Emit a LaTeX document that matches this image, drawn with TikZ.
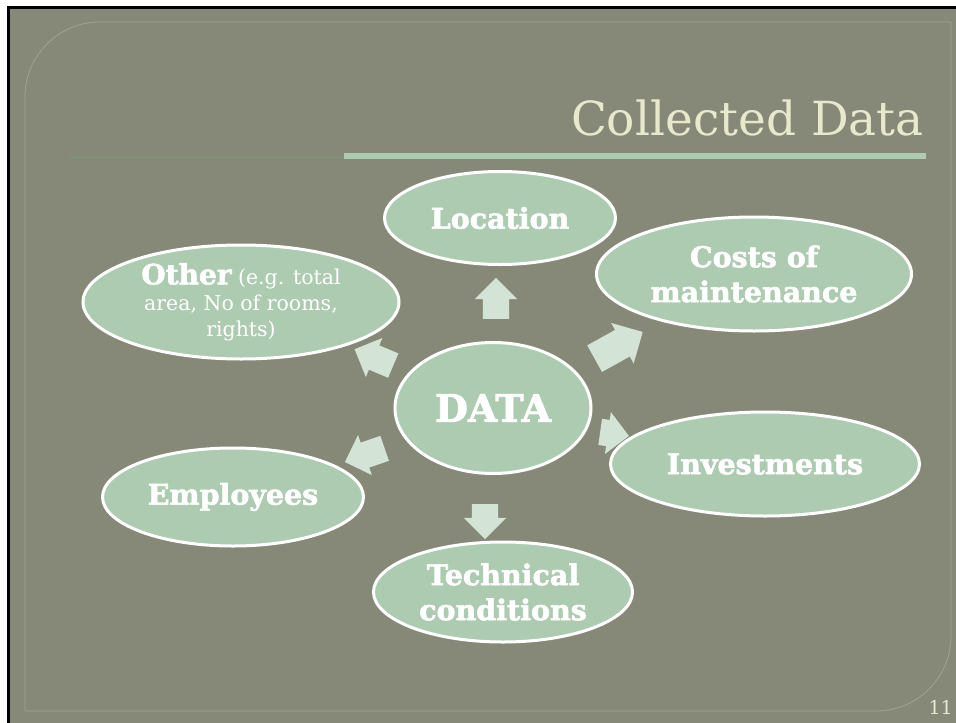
\documentclass[tikz,border=0pt]{standalone}
\usepackage{fontspec}
\setmainfont{DejaVu Serif}[BoldFeatures={FakeBold=2}]
\usepackage{tikz}
\usetikzlibrary{shapes,positioning}
\definecolor{slide}{RGB}{135,137,120}
\definecolor{rim}{RGB}{160,163,146}
\definecolor{leaf}{RGB}{173,203,177}
\definecolor{mint}{RGB}{211,227,213}
\definecolor{cream}{RGB}{232,232,205}
\definecolor{thinline}{RGB}{118,158,120}

\begin{document}
\begin{tikzpicture}
			[x=1pt, y=-1pt,
			topic/.style={ellipse, draw=white, line width=3pt, fill=leaf, text=white, inner sep=0pt, align=center, font=\fontsize{28.5}{35}\selectfont\bfseries},
			push/.style={single arrow, fill=mint, inner xsep=0pt, inner ysep=13pt, single arrow head extend=8pt, minimum width=42pt},]
			\useasboundingbox (0,0) rectangle (956,723);
			% slide background and frame
			\fill[black] (7,6) rectangle (956,723);
			\fill[slide] (10,9) rectangle (956,723);
			\draw[rim, line width=0.8pt, rounded corners=75pt] (25,711) -- (25,22) -- (951,22);
			\draw[rim, line width=0.8pt, rounded corners=75pt] (951,22) -- (951,711) -- (25,711);
			% title
			\node[anchor=base east, text=cream, font=\fontsize{47}{50}\selectfont, inner sep=0pt] (title) at (924,135) {Collected Data};
			\draw[thinline, line width=0.6pt] (70,157) -- (344,157);
			\fill[leaf] (344,153) rectangle (926,159);
			\node[anchor=base east, text=cream, font=\fontsize{19}{19}\selectfont, inner sep=0pt] (page) at (953,714) {11};

			\node[topic, minimum width=196pt, minimum height=131pt, font=\fontsize{38}{40}\selectfont\bfseries] (data) at (493,408) {DATA};
			\node[topic, minimum width=231pt, minimum height=93pt] (loc) at (500,218) {Location};
			\node[topic, minimum width=315pt, minimum height=114pt] (cost) at (754,274) {Costs of\\maintenance};
			\node[topic, minimum width=316pt, minimum height=114pt, font=\fontsize{20.5}{26}\selectfont] (other) at (241,302) {{\fontsize{28}{26}\selectfont\bfseries Other} (e.g. total\\area, No of rooms,\\rights)};
			\node[topic, minimum width=261pt, minimum height=98pt] (emp) at (233,497) {Employees};
			\node[topic, minimum width=309pt, minimum height=104pt] (inv) at (765,464) {Investments};
			\node[topic, minimum width=259pt, minimum height=100pt] (tech) at (503,592) {Technical\\conditions};

			% block arrows round the centre
			\node[push, minimum height=41pt, rotate=90] (toloc) at (496,305) {};
			\node[push, minimum height=55pt, inner ysep=15pt, minimum width=46pt, rotate=29] (tocost) at (612,349) {};
			\node[push, minimum height=42pt, rotate=157] (toother) at (380,360) {};
			\node[push, minimum height=42pt, rotate=199] (toemp) at (371,453) {};
			\node[push, minimum height=29pt, rotate=-8] (toinv) at (608,433) {};
			\node[push, minimum height=35pt, rotate=-90] (totech) at (485,515) {};
			\end{tikzpicture}
\end{document}
